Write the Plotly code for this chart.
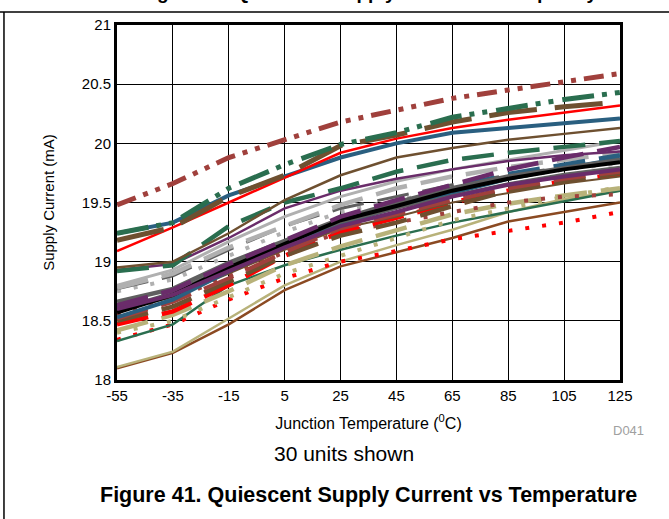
import plotly.graph_objects as go

temps = [-55, -35, -15, 5, 25, 45, 65, 85, 105, 125]
temp_labels = ["-55", "-35", "-15", "5", "25", "45", "65", "85", "105", "125"]

# supply current (mA) per unit
u01 = [19.48, 19.66, 19.88, 20.03, 20.18, 20.28, 20.38, 20.45, 20.52, 20.59]
u02 = [19.24, 19.33, 19.62, 19.82, 19.99, 20.09, 20.22, 20.30, 20.37, 20.43]
u03 = [19.18, 19.29, 19.55, 19.73, 19.98, 20.07, 20.18, 20.26, 20.31, 20.35]
u04 = [19.09, 19.29, 19.50, 19.71, 19.92, 20.04, 20.13, 20.20, 20.26, 20.32]
u05 = [19.24, 19.33, 19.56, 19.72, 19.88, 20.00, 20.09, 20.13, 20.17, 20.21]
u06 = [18.95, 19.00, 19.24, 19.52, 19.73, 19.88, 19.96, 20.03, 20.08, 20.13]
u07 = [18.92, 18.97, 19.30, 19.50, 19.62, 19.76, 19.86, 19.92, 19.97, 20.02]
u08 = [18.93, 18.98, 19.20, 19.45, 19.60, 19.70, 19.78, 19.85, 19.90, 19.93]
u09 = [18.80, 18.93, 19.17, 19.38, 19.55, 19.68, 19.78, 19.86, 19.94, 20.02]
u10 = [18.78, 18.90, 19.12, 19.30, 19.48, 19.62, 19.72, 19.80, 19.86, 19.92]
u11 = [18.63, 18.76, 18.98, 19.18, 19.38, 19.52, 19.65, 19.78, 19.88, 19.97]
u12 = [18.77, 18.88, 19.10, 19.30, 19.45, 19.55, 19.65, 19.73, 19.80, 19.85]
u13 = [18.75, 18.85, 19.05, 19.25, 19.42, 19.52, 19.60, 19.70, 19.78, 19.83]
u14 = [18.66, 18.77, 18.99, 19.18, 19.36, 19.50, 19.62, 19.72, 19.79, 19.86]
u15 = [18.57, 18.72, 18.95, 19.15, 19.35, 19.47, 19.60, 19.70, 19.78, 19.84]
u16 = [18.53, 18.68, 18.92, 19.13, 19.32, 19.46, 19.58, 19.70, 19.79, 19.87]
u17 = [18.60, 18.72, 18.92, 19.12, 19.30, 19.42, 19.55, 19.65, 19.72, 19.78]
u18 = [18.50, 18.62, 18.83, 19.05, 19.22, 19.33, 19.47, 19.60, 19.68, 19.75]
u19 = [18.47, 18.58, 18.80, 19.05, 19.25, 19.37, 19.50, 19.60, 19.68, 19.74]
u20 = [18.55, 18.68, 18.88, 19.08, 19.25, 19.33, 19.42, 19.50, 19.55, 19.57]
u21 = [18.42, 18.55, 18.75, 18.97, 19.13, 19.27, 19.40, 19.49, 19.56, 19.62]
u22 = [18.40, 18.50, 18.70, 18.90, 19.05, 19.20, 19.35, 19.45, 19.55, 19.63]
u23 = [18.33, 18.47, 18.80, 18.97, 19.10, 19.22, 19.33, 19.42, 19.51, 19.60]
u24 = [18.34, 18.47, 18.68, 18.86, 19.00, 19.09, 19.19, 19.26, 19.33, 19.42]
u25 = [18.11, 18.24, 18.52, 18.80, 19.00, 19.14, 19.27, 19.42, 19.53, 19.60]
u26 = [18.10, 18.23, 18.47, 18.76, 18.96, 19.08, 19.20, 19.34, 19.42, 19.50]
u27 = [18.60, 18.74, 18.96, 19.16, 19.33, 19.45, 19.56, 19.66, 19.74, 19.80]
u28 = [18.62, 18.74, 18.95, 19.15, 19.34, 19.48, 19.62, 19.74, 19.82, 19.90]
u29 = [18.52, 18.66, 18.86, 19.08, 19.28, 19.40, 19.52, 19.62, 19.70, 19.76]
u30 = [18.58, 18.70, 18.90, 19.10, 19.28, 19.38, 19.50, 19.58, 19.66, 19.72]

DRED = "#a0403c"
GREEN = "#2a6e4f"
BROWN = "#6e5030"
RED = "#ff0000"
BLUE = "#2a5f80"
PURPLE = "#6a2c6a"
LGRAY = "#b0b0b0"
DGRAY = "#606060"
BLACK = "#000000"
OLIVE = "#b8b27a"
BROWN2 = "#8b4a22"

DDOT = "20px,8px,5px,8px,5px,8px"
GDOT = "32px,8px,5px,8px,5px,9px"
DASH = "32px,14px"
LDASH = "48px,18px"
DOT = "4px,13px"

# (values, colour, width, dash) - drawn bottom first
units = [
    (u26, BROWN2, 2.5, "solid"), (u25, OLIVE, 2.5, "solid"),
    (u24, RED, 4, DOT), (u23, GREEN, 2.5, "solid"),
    (u22, OLIVE, 4, DOT), (u21, OLIVE, 4.5, DASH),
    (u20, DRED, 4, DOT), (u19, RED, 4.5, DASH),
    (u18, BROWN, 4.5, DASH), (u30, BROWN, 2, "solid"),
    (u29, DRED, 4, DASH), (u13, LGRAY, 4, DOT),
    (u12, DGRAY, 3, DASH), (u10, LGRAY, 4.5, DASH),
    (u16, BLUE, 4, "solid"), (u28, BLUE, 4.5, DASH),
    (u27, DGRAY, 2.5, "solid"),
    (u14, DGRAY, 4.5, "solid"), (u15, BLACK, 4, "solid"),
    (u17, PURPLE, 4, "solid"), (u11, PURPLE, 4.5, DASH),
    (u09, LGRAY, 3, "solid"), (u08, PURPLE, 2.5, "solid"),
    (u07, GREEN, 4.5, DASH), (u06, BROWN, 2.5, "solid"),
    (u05, BLUE, 4, "solid"), (u04, RED, 2.5, "solid"),
    (u03, BROWN, 5, LDASH), (u02, GREEN, 5, GDOT),
    (u01, DRED, 5, DDOT),
]

fig = go.Figure()
for vals, col, w, dash in units:
    fig.add_trace(go.Scatter(x=temps, y=vals, mode="lines", showlegend=False,
                             line=dict(color=col, width=w, dash=dash)))

font = "Liberation Sans, Arial, sans-serif"
fig.update_layout(
    width=669, height=519,
    margin=dict(l=117, r=49, t=25, b=139),
    paper_bgcolor="white", plot_bgcolor="white",
    font=dict(family=font, color="black", size=15),
)
fig.update_xaxes(range=[-55, 125], tickvals=temps, ticktext=temp_labels, ticks="",
                 showgrid=True, gridcolor="black", gridwidth=1, showline=True,
                 linecolor="black", linewidth=3, mirror=True, zeroline=False,
                 title=dict(text="Junction Temperature (<sup>0</sup>C)", font=dict(size=16), standoff=15))
fig.update_yaxes(range=[18, 21], dtick=0.5, ticks="", showgrid=True,
                 gridcolor="black", gridwidth=1, showline=True, linecolor="black",
                 linewidth=3, mirror=True, zeroline=False,
                 title=dict(text="Supply Current (mA)", font=dict(size=15), standoff=24))

fig.add_annotation(text="D041", xref="paper", yref="paper", x=1.052, y=-0.17,
                   showarrow=False, font=dict(size=13, color="#a0a0a0"))
fig.add_annotation(text="30 units shown", xref="paper", yref="paper", x=0.451, y=-0.244,
                   showarrow=False, font=dict(size=21))
fig.add_annotation(text="<b>Figure 41. Quiescent Supply Current vs Temperature</b>",
                   xref="paper", yref="paper", x=0.5, y=-0.364, showarrow=False,
                   font=dict(size=21.5))
# previous figure's caption, mostly above the visible page
fig.add_annotation(text="<b>Figure 40. Quiescent Supply Current vs Frequency</b>",
                   xref="paper", yref="paper", x=0.5, y=1.056, yanchor="bottom",
                   showarrow=False, font=dict(size=19))

# page frame lines
fig.add_shape(type="line", xref="paper", yref="paper", x0=-0.24, x1=1.1,
              y0=1.0366, y1=1.0366, line=dict(color="black", width=1.5))
fig.add_shape(type="line", xref="paper", yref="paper", x0=-0.2247, x1=-0.2247,
              y0=1.0366, y1=-0.4, line=dict(color="black", width=1.5))

fig.write_html("out.html", config={"displayModeBar": False},
               post_script="document.body.style.margin='0';")
